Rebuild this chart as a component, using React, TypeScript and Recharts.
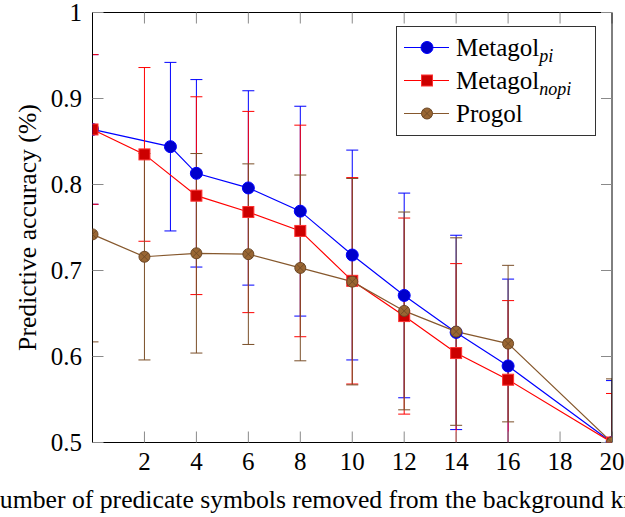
import React from 'react';
import { LineChart, Line, XAxis, YAxis, ErrorBar, Legend, Label } from 'recharts';

// ---- data ----
const xPi = [0, 3, 4, 6, 8, 10, 12, 14, 16, 20];
const accPi = [0.864, 0.844, 0.813, 0.796, 0.769, 0.718, 0.671, 0.628, 0.589, 0.5];
const errPi = [0.087, 0.098, 0.109, 0.113, 0.122, 0.122, 0.119, 0.113, 0.101, 0.072];

const xNopi = [0, 2, 4, 6, 8, 10, 12, 14, 16, 20];
const accNopi = [0.864, 0.835, 0.787, 0.768, 0.746, 0.688, 0.647, 0.604, 0.573, 0.5];
const errNopi = [0.087, 0.101, 0.115, 0.117, 0.123, 0.12, 0.114, 0.104, 0.092, 0.057];

const xProgol = [0, 2, 4, 6, 8, 10, 12, 14, 16, 20];
const accProgol = [0.742, 0.716, 0.72, 0.719, 0.703, 0.687, 0.653, 0.629, 0.615, 0.5];
const errProgol = [0.125, 0.12, 0.116, 0.105, 0.108, 0.12, 0.115, 0.109, 0.091, 0.074];

const xTicks = [2, 4, 6, 8, 10, 12, 14, 16, 18, 20];
const yTicks = [0.5, 0.6, 0.7, 0.8, 0.9, 1];

const seriesNames = ['Metagol', 'Metagol', 'Progol'];
const seriesSubs = ['pi', 'nopi', ''];
const xLabel = 'Number of predicate symbols removed from the background knowledge';
const yLabel = 'Predictive accuracy (%)';

const FONT = "'Liberation Serif', serif";
const FS = 25;
const FS_LABEL = 25.7;

const C_PI = '#0000ff';
const C_NOPI = '#ff0000';
const C_PROGOL = '#86582d';

const build = (xs: number[], ys: number[], es: number[]) =>
  xs.map((x, i) => ({ x, y: ys[i], err: es[i] }));

const dataPi = build(xPi, accPi, errPi);
const dataNopi = build(xNopi, accNopi, errNopi);
const dataProgol = build(xProgol, accProgol, errProgol);

// ---- markers ----
const CircleMark = ({ cx, cy }: any) => (
  <circle cx={cx} cy={cy} r={6} fill="#0000cc" stroke="#0000ff" strokeWidth={1} />
);
const SquareMark = ({ cx, cy }: any) => (
  <rect x={cx - 5.5} y={cy - 5.5} width={11} height={11} fill="#cc0000" stroke="#ff3030" strokeWidth={1} />
);
const OtimesMark = ({ cx, cy }: any) => {
  const d = 5.5 * 0.707;
  return (
    <g>
      <circle cx={cx} cy={cy} r={5.5} fill="#996633" stroke="#6b4726" strokeWidth={1} />
      <line x1={cx - d} y1={cy - d} x2={cx + d} y2={cy + d} stroke="#6b4726" strokeWidth={0.8} />
      <line x1={cx - d} y1={cy + d} x2={cx + d} y2={cy - d} stroke="#6b4726" strokeWidth={0.8} />
    </g>
  );
};

const marks = [CircleMark, SquareMark, OtimesMark];
const colors = [C_PI, C_NOPI, C_PROGOL];

const dotFn = (Comp: any, name: string) => (props: any) => {
  if (props.cx == null || props.cy == null) return <g key={`${name}-${props.index}`} />;
  return (
    <g key={`${name}-${props.index}`}>
      <Comp cx={props.cx} cy={props.cy} />
    </g>
  );
};

const renderLegend = () => (
  <div style={{ fontFamily: FONT }}>
    <svg width={200} height={110} style={{ display: 'block' }}>
      <rect x={0.5} y={0.5} width={199} height={109} fill="#fff" stroke="#333" strokeWidth={1} />
      {seriesNames.map((n, i) => {
        const cy = 21.5 + i * 33;
        const M = marks[i];
        return (
          <g key={n + i}>
            <line x1={8} y1={cy} x2={53} y2={cy} stroke={colors[i]} strokeWidth={1.2} />
            <M cx={31} cy={cy} />
            <text x={60} y={cy + 8} style={{ fontFamily: FONT, fontSize: FS }} fill="#000">
              {n}
              {seriesSubs[i] ? (
                <tspan style={{ fontSize: 18, fontStyle: 'italic' }} dy={6}>
                  {seriesSubs[i]}
                </tspan>
              ) : null}
            </text>
          </g>
        );
      })}
    </svg>
  </div>
);

const XLabelContent = (props: any) => {
  const vb = props.viewBox || {};
  return (
    <text x={vb.x + vb.width / 2} y={vb.y + 65.5} textAnchor="middle" style={{ fontFamily: FONT, fontSize: FS_LABEL }} fill="#000">
      {xLabel}
    </text>
  );
};

const YLabelContent = (props: any) => {
  const vb = props.viewBox || {};
  const cx = vb.x + 36;
  const cy = vb.y + vb.height / 2;
  return (
    <text x={cx} y={cy} transform={`rotate(-90 ${cx} ${cy})`} textAnchor="middle" style={{ fontFamily: FONT, fontSize: FS_LABEL }} fill="#000">
      {yLabel}
    </text>
  );
};

const XTick = (props: any) => {
  const { x, y, payload } = props;
  return (
    <text x={x} y={y} dy="0.71em" textAnchor="middle" style={{ fontFamily: FONT, fontSize: FS }} fill="#000">
      {payload.value}
    </text>
  );
};

const YTick = (props: any) => {
  const { x, y, payload } = props;
  const v = payload.value as number;
  return (
    <text x={x} y={y} dy="0.355em" textAnchor="end" style={{ fontFamily: FONT, fontSize: FS }} fill="#000">
      {v === 1 ? '1' : v.toFixed(1)}
    </text>
  );
};

const axisLine = { stroke: '#000', strokeWidth: 1 };
const tickLine = { stroke: '#8a8a8a', strokeWidth: 1 };

export default function App() {
  return (
    <div style={{ position: 'absolute', left: 0, top: 0, width: 625, height: 517, background: '#fff', fontFamily: FONT }}>
      <style>{`.recharts-errorBars, .recharts-errorBar { clip-path: url(#ebclip); }`}</style>
      <svg width={0} height={0} style={{ position: 'absolute' }}>
        <defs>
          <clipPath id="ebclip">
            <rect x={92.5} y={12.5} width={519.5} height={430} />
          </clipPath>
        </defs>
      </svg>
      <LineChart width={625} height={517} margin={{ top: 11.5, right: 0, bottom: 0, left: 0 }}>
        <XAxis
          xAxisId="b"
          dataKey="x"
          type="number"
          domain={[0, 20]}
          allowDataOverflow
          ticks={xTicks}
          orientation="bottom"
          height={74.5}
          tickSize={-11}
          tickMargin={20.5}
          tick={<XTick />}
          axisLine={axisLine}
          tickLine={tickLine}
          interval={0}
        >
          <Label content={XLabelContent} />
        </XAxis>
        <XAxis
          xAxisId="t"
          dataKey="x"
          type="number"
          domain={[0, 20]}
          allowDataOverflow
          ticks={xTicks}
          orientation="top"
          height={1}
          tickSize={-11}
          tickFormatter={() => ''}
          axisLine={axisLine}
          tickLine={tickLine}
          interval={0}
        />
        <YAxis
          yAxisId="l"
          type="number"
          domain={[0.5, 1]}
          allowDataOverflow
          ticks={yTicks}
          width={92.5}
          tickSize={-11}
          tickMargin={21.5}
          tick={<YTick />}
          axisLine={axisLine}
          tickLine={tickLine}
          interval={0}
        >
          <Label content={YLabelContent} />
        </YAxis>
        <YAxis
          yAxisId="r"
          orientation="right"
          type="number"
          domain={[0.5, 1]}
          allowDataOverflow
          ticks={yTicks}
          width={13}
          tickSize={-11}
          tickFormatter={() => ''}
          axisLine={axisLine}
          tickLine={tickLine}
          interval={0}
        />
        <Legend
          layout="vertical"
          align="center"
          verticalAlign="middle"
          content={renderLegend}
          wrapperStyle={{ left: 395.5, top: 25.5, width: 200, height: 110 }}
        />
        <Line
          xAxisId="b"
          yAxisId="l"
          data={dataPi}
          dataKey="y"
          name="Metagol_pi"
          stroke={C_PI}
          strokeWidth={1.2}
          dot={dotFn(CircleMark, 'pi')}
          activeDot={false}
          isAnimationActive={false}
        >
          <ErrorBar dataKey="err" direction="y" width={6} stroke={C_PI} strokeWidth={1} isAnimationActive={false} />
        </Line>
        <Line
          xAxisId="b"
          yAxisId="l"
          data={dataNopi}
          dataKey="y"
          name="Metagol_nopi"
          stroke={C_NOPI}
          strokeWidth={1.2}
          dot={dotFn(SquareMark, 'nopi')}
          activeDot={false}
          isAnimationActive={false}
        >
          <ErrorBar dataKey="err" direction="y" width={6} stroke={C_NOPI} strokeWidth={1} isAnimationActive={false} />
        </Line>
        <Line
          xAxisId="b"
          yAxisId="l"
          data={dataProgol}
          dataKey="y"
          name="Progol"
          stroke={C_PROGOL}
          strokeWidth={1.2}
          dot={dotFn(OtimesMark, 'progol')}
          activeDot={false}
          isAnimationActive={false}
        >
          <ErrorBar dataKey="err" direction="y" width={6} stroke="#7a4f28" strokeWidth={1} isAnimationActive={false} />
        </Line>
      </LineChart>
    </div>
  );
}
